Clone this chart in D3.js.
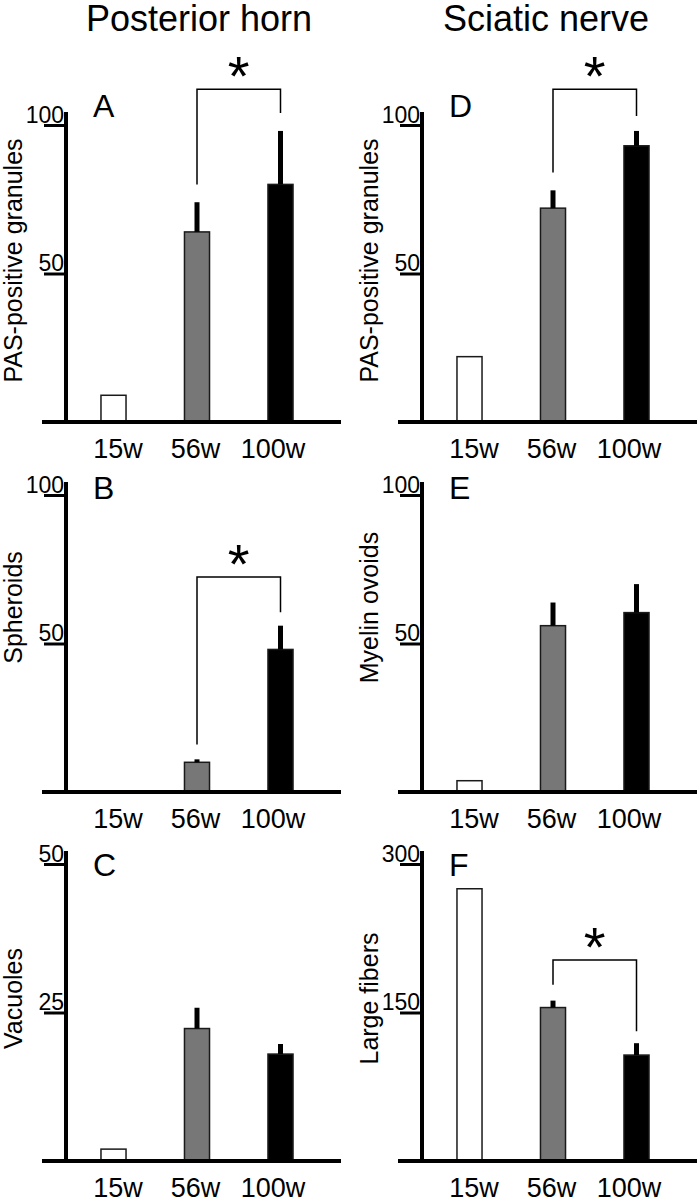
<!DOCTYPE html>
<head>
  <meta charset="utf-8">
  <style>
    body { margin:0; background:#fff; }
    svg { display:block; }
    text { font-family:"Liberation Sans", Arial, sans-serif; fill:#000; }
  </style>
</head>
<body>
<script src="https://d3js.org/d3.v7.min.js"></script>
<script>

  // DATA
  var weeks = ["15w", "56w", "100w"];

  var pasHorn     = [9, 64, 80],      pasHornErr     = [0, 10, 18];
  var spheroids   = [0, 10, 48],      spheroidsErr   = [0, 1, 8];
  var vacuoles    = [2, 22.3, 18],    vacuolesErr    = [0, 3.5, 1.7];
  var pasNerve    = [22, 72, 93],     pasNerveErr    = [0, 6, 5];
  var ovoids      = [3.8, 56, 60.4],  ovoidsErr      = [0, 7.8, 9.6];
  var largeFibers = [275, 155, 107],  largeFibersErr = [0, 7, 12];

  var titles  = ["Posterior horn", "Sciatic nerve"];
  var letters = ["A", "B", "C", "D", "E", "F"];
  var yLabels = ["PAS-positive granules", "Spheroids", "Vacuoles",
                 "PAS-positive granules", "Myelin ovoids", "Large fibers"];
  var yMax    = [100, 100, 50, 100, 100, 300];
  var yTicks  = [[50, 100], [50, 100], [25, 50], [50, 100], [50, 100], [150, 300]];

  var values = [pasHorn, spheroids, vacuoles, pasNerve, ovoids, largeFibers];
  var errors = [pasHornErr, spheroidsErr, vacuolesErr, pasNerveErr, ovoidsErr, largeFibersErr];

  // significance brackets (56w vs 100w), heights in data units
  var brackets = [
    { panel: 0, top: 112, left: 80, right: 104 },
    { panel: 1, top: 72.4, left: 16, right: 60.5 },
    { panel: 3, top: 112, left: 84, right: 103 },
    { panel: 5, top: 203, left: 178, right: 131 }
  ];

  // LAYOUT
  var width = 697, height = 1199;
  var colX = [66, 422],
      rowBase = [422, 792, 1161],
      plotH = 297,
      titleDx = [133, 124],
      letterDy = [-8, 4, 12],
      labelShift = [-13, -36, -14];

  var fills = ["#fff", "#777", "#000"];

  var svg = d3.select("body").append("svg")
      .attr("width", width)
      .attr("height", height);

  // COLUMN TITLES
  svg.selectAll("text.title")
    .data(titles)
    .enter().append("text")
      .attr("class", "title")
      .attr("x", function(d, i) { return colX[i] + titleDx[i]; })
      .attr("y", 31)
      .attr("text-anchor", "middle")
      .attr("font-size", 36)
      .text(function(d) { return d; });

  var scales = [];

  // PANELS
  values.forEach(function(vals, i) {
    var col = Math.floor(i / 3), row = i % 3;
    var ax = colX[col], base = rowBase[row];

    var rows = weeks.map(function(w, j) {
      return { week: w, idx: j, value: vals[j], err: errors[i][j] };
    });

    var x = d3.scaleBand()
        .domain(weeks)
        .range([ax + 5.75, ax + 256.25])
        .paddingInner(0.7)
        .paddingOuter(0.35);

    var xl = d3.scalePoint()
        .domain(weeks)
        .range([ax + 52, ax + 207]);

    var y = d3.scaleLinear()
        .domain([0, yMax[i]])
        .range([base, base - plotH]);

    scales[i] = { x: x, y: y };

    var g = svg.append("g").attr("class", "panel");

    // bars
    g.selectAll("rect")
      .data(rows)
      .enter().append("rect")
        .attr("x", function(d) { return x(d.week); })
        .attr("width", x.bandwidth())
        .attr("y", function(d) { return y(d.value); })
        .attr("height", function(d) { return base - y(d.value); })
        .attr("fill", function(d) { return fills[d.idx]; })
        .attr("stroke", "#1a1a1a")
        .attr("stroke-width", 1.5);

    // error bars (upper half only)
    g.selectAll("line.err")
      .data(rows.filter(function(d) { return d.err > 0; }))
      .enter().append("line")
        .attr("class", "err")
        .attr("x1", function(d) { return x(d.week) + x.bandwidth() / 2; })
        .attr("x2", function(d) { return x(d.week) + x.bandwidth() / 2; })
        .attr("y1", function(d) { return y(d.value); })
        .attr("y2", function(d) { return y(d.value + d.err); })
        .attr("stroke", "#000")
        .attr("stroke-width", 5);

    // y axis
    var ga = g.append("g")
        .attr("transform", "translate(" + ax + ",0)")
        .call(d3.axisLeft(y).tickValues(yTicks[i]).tickSize(22).tickFormat(d3.format("d")))
        .attr("font-family", null)
        .attr("font-size", null);
    ga.select(".domain").remove();
    ga.selectAll(".tick line")
        .attr("stroke", "#000")
        .attr("stroke-width", 3);
    ga.selectAll(".tick text")
        .attr("x", -2)
        .attr("dy", "-0.12em")
        .attr("font-size", 23)
        .attr("fill", "#000");

    g.append("line")
        .attr("x1", ax).attr("x2", ax)
        .attr("y1", base).attr("y2", y(yMax[i]) - 13)
        .attr("stroke", "#000")
        .attr("stroke-width", 4);

    // baseline
    g.append("line")
        .attr("x1", ax - 24).attr("x2", ax + 275)
        .attr("y1", base).attr("y2", base)
        .attr("stroke", "#000")
        .attr("stroke-width", 4);

    // category labels
    g.selectAll("text.cat")
      .data(weeks)
      .enter().append("text")
        .attr("class", "cat")
        .attr("x", function(d) { return xl(d); })
        .attr("y", base + 36)
        .attr("text-anchor", "middle")
        .attr("font-size", 27)
        .text(function(d) { return d; });

    // panel letter
    g.append("text")
        .attr("x", ax + 27)
        .attr("y", y(yMax[i]) + letterDy[row])
        .attr("font-size", 32)
        .text(letters[i]);

    // axis title
    var cy = (base + y(yMax[i])) / 2 + labelShift[row];
    g.append("text")
        .attr("transform", "translate(" + (ax - 44) + "," + cy + ") rotate(-90)")
        .attr("text-anchor", "middle")
        .attr("font-size", 25)
        .text(yLabels[i]);
  });

  // SIGNIFICANCE BRACKETS
  brackets.forEach(function(b) {
    var s = scales[b.panel];
    var x1 = s.x("56w") + s.x.bandwidth() / 2,
        x2 = s.x("100w") + s.x.bandwidth() / 2,
        yt = s.y(b.top);

    svg.append("path")
        .attr("d", "M" + x1 + "," + s.y(b.left) + "V" + yt + "H" + x2 + "V" + s.y(b.right))
        .attr("fill", "none")
        .attr("stroke", "#000")
        .attr("stroke-width", 1.5);

    svg.append("text")
        .attr("x", (x1 + x2) / 2)
        .attr("y", yt + 6)
        .attr("text-anchor", "middle")
        .attr("font-size", 56)
        .text("*");
  });

</script>
</body>
